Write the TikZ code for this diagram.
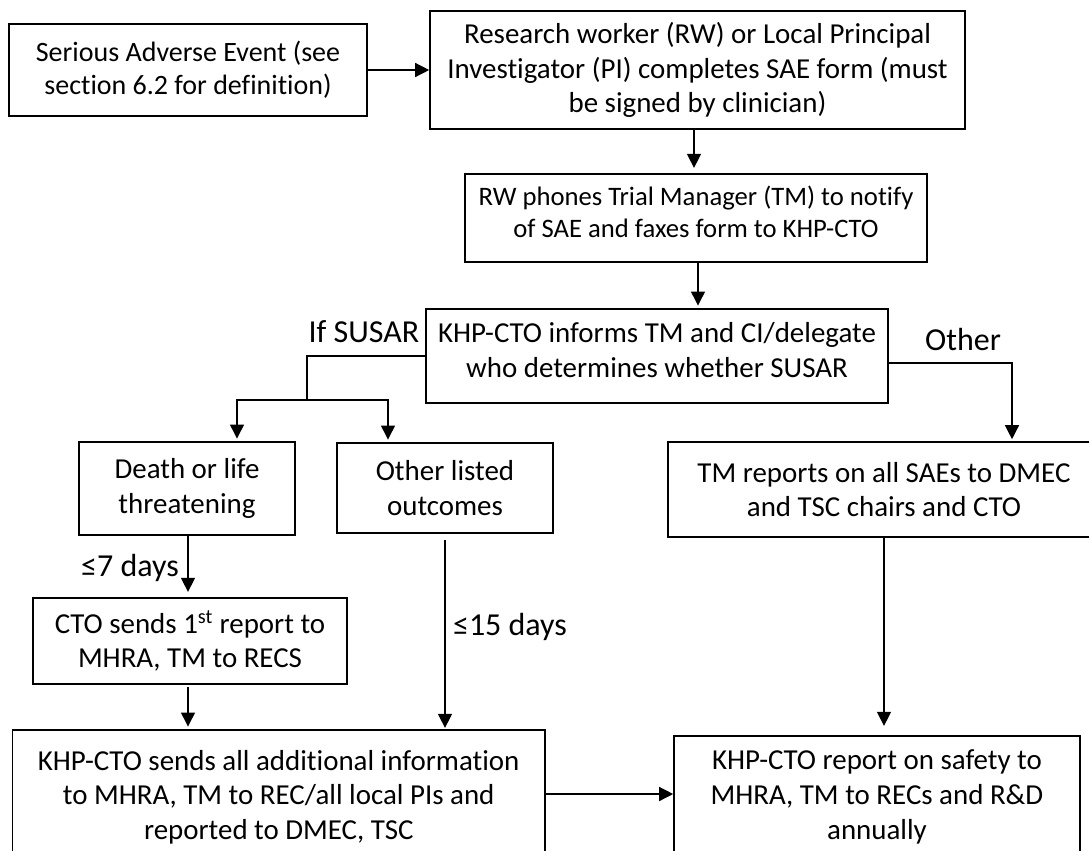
\documentclass[tikz,border=0pt]{standalone}
\usepackage{fontspec}
\setmainfont{Carlito}[Ligatures=CommonOff]
\usetikzlibrary{arrows.meta,calc}
\begin{document}
\begin{tikzpicture}[x=0.75pt,y=-0.75pt,
  box/.style={draw=black,line width=1.2pt,align=center,inner sep=0pt,
    font=\fontsize{21.7}{26}\selectfont},
  raised/.style={text depth=9pt},
  lbl/.style={inner sep=0pt,font=\fontsize{24}{28}\selectfont},
  conn/.style={draw=black,line width=1pt},
  arr/.style={conn,-{Triangle[width=10.5pt,length=10.5pt]}}]
\useasboundingbox (0,0) rectangle (1089,850);
\clip (0,0) rectangle (1089,850);
\fill[white] (0,0) rectangle (1089,850);
% boxes
\node[box,minimum width=268.5pt,minimum height=69pt,font=\fontsize{21}{25}\selectfont] (b1) at (188,70)
  {Serious Adverse Event (see\\section 6.2 for definition)};
\node[box,minimum width=401.25pt,minimum height=88.5pt] (b2) at (697.5,70)
  {Research worker (RW) or Local Principal\\Investigator (PI) completes SAE form (must\\be signed by clinician)};
\node[box,raised,minimum width=346.5pt,minimum height=66pt,font=\fontsize{20}{24}\selectfont] (b3) at (696,218)
  {RW phones Trial Manager (TM) to notify\\of SAE and faxes form to KHP-CTO};
\node[box,raised,minimum width=346.5pt,minimum height=70.5pt] (b4) at (657,356)
  {KHP-CTO informs TM and CI/delegate\\who determines whether SUSAR};
\node[box,minimum width=162pt,minimum height=69.75pt] (death) at (187,488.5)
  {Death or life\\threatening};
\node[box,minimum width=162pt,minimum height=67.5pt] (other) at (445,488)
  {Other listed\\outcomes};
\node[box,minimum width=324pt,minimum height=71.25pt] (tm) at (884,489.5)
  {TM reports on all SAEs to DMEC\\and TSC chairs and CTO};
\node[box,minimum width=235.5pt,minimum height=64.5pt] (cto) at (190,641)
  {CTO sends 1\textsuperscript{st} report to\\MHRA, TM to RECS};
\node[box,minimum width=399.4pt,minimum height=100.5pt] (khp) at (278.75,797)
  {KHP-CTO sends all additional information\\to MHRA, TM to REC/all local PIs and\\reported to DMEC, TSC};
\node[box,minimum width=304.5pt,minimum height=91.5pt] (fin) at (877,797)
  {KHP-CTO report on safety to\\MHRA, TM to RECs and R\&D\\annually};
% labels
\node[lbl] (lsusar) at (364,332) {If SUSAR};
\node[lbl] (lother) at (963,340) {Other};
\node[lbl] (l7) at (130,568) {≤7 days};
\node[lbl] (l15) at (510,627) {≤15 days};
% helper coordinates
\coordinate (x694) at (694,0);
\coordinate (x698) at (698,0);
\coordinate (j1) at (307,400);
\coordinate (jl) at (237,400);
\coordinate (jr) at (388,400);
\coordinate (jo) at (1012,363);
\coordinate (x188) at (188,0);
\coordinate (x445) at (445,0);
\coordinate (x884) at (884,0);
\coordinate (y794) at (0,794);
% connectors
\draw[arr] (b1.east) -- (b1.east -| b2.west);
\draw[arr,shorten >=4pt] (b2.south -| x694) -- (b3.north -| x694);
\draw[arr,shorten >=2pt] (b3.south -| x698) -- (b4.north -| x698);
\draw[conn] (b4.west) -| (j1);
\draw[arr,shorten >=2pt] (j1) -- (jl) -- (death.north -| jl);
\draw[arr,shorten >=2pt] (j1) -- (jr) -- (other.north -| jr);
\draw[arr,shorten >=1.5pt] (b4.east |- jo) -- (jo) -- (tm.north -| jo);
\draw[arr,shorten >=4pt] (death.south -| x188) -- (cto.north -| x188);
\draw[arr,shorten <=5pt,shorten >=1pt] (other.south -| x445) -- (khp.north -| x445);
\draw[arr,shorten <=2pt,shorten >=2pt] (cto.south -| x188) -- (khp.north -| x188);
\draw[arr,shorten >=7pt] (tm.south -| x884) -- (fin.north -| x884);
\draw[arr] (khp.east |- y794) -- (fin.west |- y794);
\end{tikzpicture}
\end{document}
